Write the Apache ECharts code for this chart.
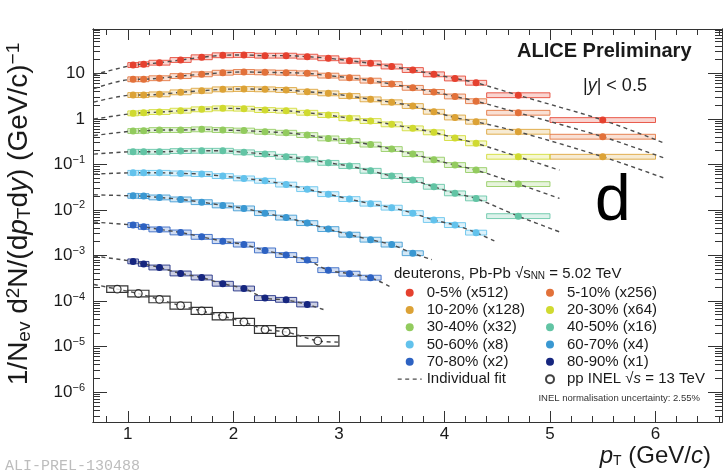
<!DOCTYPE html>
<html><head><meta charset="utf-8">
<script src="https://cdn.jsdelivr.net/npm/echarts@6/dist/echarts.min.js"></script>
<style>html,body{margin:0;padding:0;background:#fff}#c{width:726px;height:475px}</style>
</head><body><div id="c"></div>
<script>
// ---------------- data ----------------
const binEdges   = [1.0,1.1,1.2,1.4,1.6,1.8,2.0,2.2,2.4,2.6,2.8,3.0,3.2,3.4,3.6,3.8,4.0,4.2,4.4,5.0,6.0];
const ppBinEdges = [0.8,1.0,1.2,1.4,1.6,1.8,2.0,2.2,2.4,2.6,3.0];

const names = ['0-5% (x512)','5-10% (x256)','10-20% (x128)','20-30% (x64)','30-40% (x32)',
               '40-50% (x16)','50-60% (x8)','60-70% (x4)','70-80% (x2)','80-90% (x1)'];
const colors = ['#e5412f','#e2713a','#dca236','#d0da30','#92cb5e','#62c4a4','#62c2ec','#3a98d2','#2d62c2','#16267f'];

const c0_5   = [15.2,15.8,17.1,19.6,22.5,24.9,25.3,24.4,24.4,23.2,21.4,18.9,16.6,14.1,11.8,9.5,7.7,6.2,3.3,0.94];
const c5_10  = [7.4,7.4,7.8,8.7,9.5,10.3,10.7,10.5,10.3,10.0,8.9,8.0,6.9,5.8,4.8,3.9,3.1,2.44,1.36,0.405];
const c10_20 = [3.33,3.33,3.45,3.82,4.15,4.45,4.52,4.45,4.30,3.94,3.63,3.17,2.68,2.31,1.91,1.43,1.07,0.864,0.52,0.147];
const c20_30 = [1.32,1.36,1.41,1.51,1.62,1.70,1.67,1.56,1.51,1.36,1.21,1.03,0.895,0.757,0.618,0.505,0.378,0.29,0.147];
const c30_40 = [0.54,0.547,0.567,0.567,0.588,0.567,0.553,0.52,0.495,0.44,0.372,0.325,0.272,0.217,0.168,0.127,0.0966,0.075,0.0369];
const c40_50 = [0.189,0.189,0.189,0.196,0.199,0.199,0.184,0.168,0.147,0.129,0.108,0.0918,0.0723,0.0553,0.0452,0.0322,0.0231,0.0179,0.0073];
const c50_60 = [0.0653,0.0653,0.0653,0.0634,0.0612,0.0553,0.0492,0.0436,0.036,0.0286,0.0222,0.0173,0.0137,0.0112,0.0085,0.0060,0.00464,0.00317];
const c60_70 = [0.0204,0.0201,0.0188,0.0170,0.0148,0.01255,0.0108,0.0085,0.00678,0.00513,0.00379,0.00286,0.00222,0.00173,0.00112];
const c70_80 = [0.00464,0.00425,0.00373,0.0032,0.00256,0.00206,0.00173,0.00129,0.00102,0.00079,0.000475,0.000398,0.000325];
const c80_90 = [0.000741,0.000653,0.000544,0.000402,0.000328,0.000239,0.000188,0.000116,0.000106,0.0000838];
const ppName = 'pp INEL √s = 13 TeV';
const ppVals = [0.000182,0.000146,0.000108,0.0000789,0.0000606,0.0000463,0.0000347,0.0000236,0.0000209,0.0000133];
const ppSyst = [0.18,0.18,0.18,0.19,0.19,0.2,0.2,0.22,0.25,0.3];
const pbSyst = 0.13;

// individual fits: value at the left frame edge and the end point of each curve
const fitStartX = 0.68;
const fitStartY = [9.4,4.64,2.34,0.99,0.43,0.168,0.0612,0.0215,0.0054,0.000966];
const fitEndX   = [6.09,6.09,6.09,5.09,5.09,5.09,4.48,3.88,3.5,2.87];
const fitEndY   = [0.29,0.136,0.0492,0.075,0.0179,0.0033,0.00204,0.00081,0.000198,0.0000631];
const ppFitStartY = 0.00023, ppFitEnd = [3.0, 0.0000125];

// ticks
const xMajor = [1,2,3,4,5,6];
const xMinor = [0.8,1.0,1.2,1.4,1.6,1.8,2.0,2.2,2.4,2.6,2.8,3.0,3.2,3.4,3.6,3.8,4.0,4.2,4.4,4.6,4.8,5.0,5.2,5.4,5.6,5.8,6.0,6.2,6.4,6.6];
const yMajor = [1e-6,1e-5,1e-4,1e-3,1e-2,1e-1,1,10];
const X_MIN = 0.67, X_MAX = 6.63, Y_MIN = 2.2e-7, Y_MAX = 94;
const yMinor = [];
for (let e = -7; e <= 1; e++) for (let k = 2; k <= 9; k++) { const v = k * Math.pow(10, e); if (v > Y_MIN && v < Y_MAX) yMinor.push(+v.toPrecision(3)); }

// ---------------- chart ----------------
const FONT = '"Liberation Sans", Arial, Helvetica, sans-serif';
const seriesVals = [c0_5,c5_10,c10_20,c20_30,c30_40,c40_50,c50_60,c60_70,c70_80,c80_90];
const chart = echarts.init(document.getElementById('c'));

function hexA(hex, a) {
  const n = parseInt(hex.slice(1), 16);
  return 'rgba(' + (n >> 16) + ',' + ((n >> 8) & 255) + ',' + (n & 255) + ',' + a + ')';
}
function boxRender(fill, stroke, lw) {
  return function (params, api) {
    const lo = api.value(0), hi = api.value(1), v = api.value(2), r = api.value(3);
    const p1 = api.coord([lo, v * (1 + r)]);
    const p2 = api.coord([hi, v / (1 + r)]);
    return { type: 'rect', shape: { x: p1[0], y: p1[1], width: p2[0] - p1[0], height: p2[1] - p1[1] },
             style: { fill: fill, stroke: stroke, lineWidth: lw } };
  };
}
const fitStyle = { color: '#4d4d4d', width: 1.4, type: [4, 3.5] };

const pointSeries = [], boxSeries = [], fitSeries = [];
seriesVals.forEach(function (vals, i) {
  const pts = vals.map(function (v, k) { return [(binEdges[k] + binEdges[k + 1]) / 2, v]; });
  pointSeries.push({ type: 'scatter', name: names[i], data: pts, symbol: 'circle', symbolSize: 7,
    itemStyle: { color: colors[i], opacity: 1 }, z: 5 });
  boxSeries.push({ type: 'custom', name: names[i], silent: true, z: 2, clip: true,
    encode: { x: [0, 1], y: 2 },
    data: vals.map(function (v, k) { return [binEdges[k], binEdges[k + 1], v, pbSyst]; }),
    renderItem: boxRender(hexA(colors[i], 0.22), hexA(colors[i], 0.85), 1) });
  fitSeries.push({ type: 'line', name: 'Individual fit', smooth: 0.3, symbol: 'none', showSymbol: false, silent: true, z: 4,
    data: [[fitStartX, fitStartY[i]]].concat(pts).concat([[fitEndX[i], fitEndY[i]]]),
    lineStyle: fitStyle, itemStyle: { color: '#4d4d4d' } });
});
const ppPts = ppVals.map(function (v, k) { return [(ppBinEdges[k] + ppBinEdges[k + 1]) / 2, v]; });
pointSeries.push({ type: 'scatter', name: ppName, data: ppPts, symbol: 'circle', symbolSize: 7.5,
  itemStyle: { color: '#ffffff', borderColor: '#111', borderWidth: 1.3 }, z: 5 });
boxSeries.push({ type: 'custom', name: ppName, silent: true, z: 2, clip: true, encode: { x: [0, 1], y: 2 },
  data: ppVals.map(function (v, k) { return [ppBinEdges[k], ppBinEdges[k + 1], v, ppSyst[k]]; }),
  renderItem: boxRender('rgba(0,0,0,0)', '#333', 1.2) });
fitSeries.push({ type: 'line', name: 'Individual fit', smooth: 0.3, symbol: 'none', showSymbol: false, silent: true, z: 4,
  data: [[fitStartX, ppFitStartY]].concat(ppPts).concat([ppFitEnd]),
  lineStyle: fitStyle, itemStyle: { color: '#4d4d4d' } });

const axisCol = '#333';
function xAx(pos, major, labels) {
  return { type: 'value', min: X_MIN, max: X_MAX, position: pos,
    axisLine: { show: true, onZero: false, lineStyle: { color: axisCol, width: 1 } },
    axisTick: { show: true, inside: true, length: major ? 11 : 6, customValues: major ? xMajor : xMinor,
                lineStyle: { color: axisCol, width: 1 } },
    axisLabel: { show: labels, customValues: xMajor, margin: 4, fontSize: 17, color: '#1a1a1a', fontFamily: FONT },
    splitLine: { show: false } };
}
function yAx(pos, major, labels) {
  return { type: 'log', logBase: 10, min: Y_MIN, max: Y_MAX, position: pos,
    axisLine: { show: true, onZero: false, lineStyle: { color: axisCol, width: 1 } },
    axisTick: { show: true, inside: true, length: major ? 14 : 7, customValues: major ? yMajor : yMinor,
                lineStyle: { color: axisCol, width: 1 } },
    axisLabel: { show: labels, customValues: yMajor, margin: 8, fontSize: 17, color: '#1a1a1a', fontFamily: FONT,
      formatter: function (v) {
        const e = Math.round(Math.log10(v));
        if (e === 1) return '10';
        if (e === 0) return '1';
        return '{n|10}{s|' + (e < 0 ? '−' : '') + Math.abs(e) + '}';
      },
      rich: { n: { fontSize: 17, fontFamily: FONT, color: '#1a1a1a', lineHeight: 20 },
              s: { fontSize: 11, fontFamily: FONT, color: '#1a1a1a', verticalAlign: 'top', lineHeight: 11 } } },
    splitLine: { show: false } };
}

const legendText = { fontSize: 15, lineHeight: 17.3, color: '#1a1a1a', fontFamily: FONT,
  rich: { i: { fontSize: 15, fontStyle: 'italic', lineHeight: 17.3, color: '#1a1a1a', fontFamily: FONT } } };
const legendFmt = function (n) { return n === ppName ? 'pp INEL √{i|s} = 13 TeV' : n; };

chart.setOption({
  backgroundColor: '#fff',
  animation: false,
  grid: { left: 93, right: 4, top: 29, bottom: 53, containLabel: false },
  xAxis: [xAx('bottom', true, true), xAx('bottom', false, false), xAx('top', true, false), xAx('top', false, false)],
  yAxis: [yAx('left', true, true), yAx('left', false, false), yAx('right', true, false), yAx('right', false, false)],
  legend: [
    { data: [names[0], names[2], names[4], names[6], names[8],
             { name: 'Individual fit', itemStyle: { opacity: 0 }, lineStyle: fitStyle }], orient: 'vertical',
      left: 397, top: 284, itemWidth: 24, itemHeight: 8, itemGap: 0, padding: 0, textStyle: legendText, formatter: legendFmt },
    { data: [names[1], names[3], names[5], names[7], names[9], ppName], orient: 'vertical',
      left: 545, top: 284, itemWidth: 24, itemHeight: 8, itemGap: 0, padding: 0, textStyle: legendText, formatter: legendFmt }
  ],
  graphic: [
    { type: 'text', left: 517, top: 41, style: { text: 'ALICE Preliminary', fontSize: 20, fontWeight: 'bold', fill: '#1a1a1a', fontFamily: FONT } },
    { type: 'text', left: 583, top: 77, style: { text: '|{i|y}| < 0.5', fontSize: 18, fill: '#1a1a1a', fontFamily: FONT,
        rich: { i: { fontSize: 18, fontStyle: 'italic', fontFamily: FONT, fill: '#1a1a1a' } } } },
    { type: 'text', left: 595, top: 170, style: { text: 'd', fontSize: 64, fill: '#000', fontFamily: FONT } },
    { type: 'text', left: 394, top: 266, style: { text: 'deuterons, Pb-Pb √s{sub|NN} = 5.02 TeV', fontSize: 15, fill: '#1a1a1a', fontFamily: FONT,
        rich: { sub: { fontSize: 10, fontFamily: FONT, fill: '#1a1a1a', verticalAlign: 'bottom', lineHeight: 10 } } } },
    { type: 'text', right: 26, top: 393, style: { text: 'INEL normalisation uncertainty: 2.55%', fontSize: 9.5, fill: '#333', fontFamily: FONT } },
    { type: 'text', left: 5, top: 459, style: { text: 'ALI-PREL-130488', fontSize: 15, fill: '#bdbdbd', fontFamily: '"Liberation Mono", "DejaVu Sans Mono", monospace' } },
    { type: 'text', right: 15, top: 444, style: { text: '{i|p}{sub|T} (GeV/{i|c})', fontSize: 24, fill: '#1a1a1a', fontFamily: FONT,
        rich: { i: { fontSize: 24, fontStyle: 'italic', fontFamily: FONT, fill: '#1a1a1a' },
                sub: { fontSize: 14, fontFamily: FONT, fill: '#1a1a1a', verticalAlign: 'bottom', lineHeight: 14 } } } },
    { type: 'text', x: 19, y: 214, rotation: Math.PI / 2,
      style: { text: '1/N{sub|ev} d{sup|2}N/(d{i|p}{sub|T}d{i|y}) (GeV/c){sup|−1}', fontSize: 28, fill: '#1a1a1a', fontFamily: FONT,
        align: 'center', verticalAlign: 'middle', lineHeight: 30,
        rich: { i: { fontSize: 28, fontStyle: 'italic', fontFamily: FONT, fill: '#1a1a1a', lineHeight: 30 },
                sub: { fontSize: 19, fontFamily: FONT, fill: '#1a1a1a', verticalAlign: 'bottom', lineHeight: 17 },
                sup: { fontSize: 19, fontFamily: FONT, fill: '#1a1a1a', verticalAlign: 'top', lineHeight: 17 } } } }
  ],
  series: pointSeries.concat(boxSeries).concat(fitSeries)
});
</script></body></html>
